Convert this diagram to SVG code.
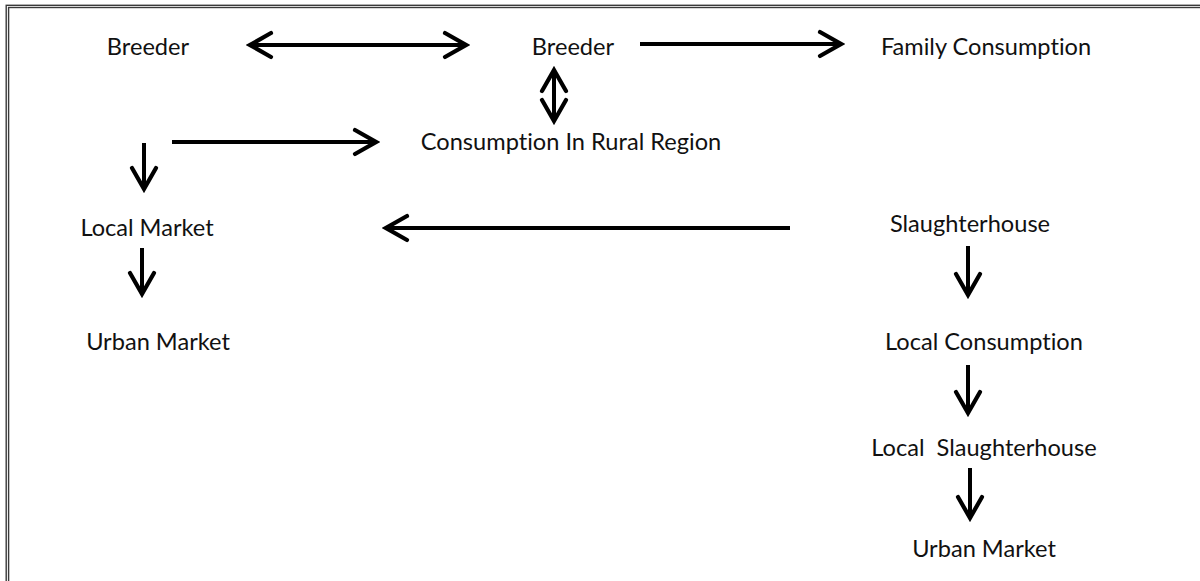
<svg xmlns="http://www.w3.org/2000/svg" width="1200" height="581" viewBox="0 0 1200 581">
<style>
.lbl{font-family:Lato,"Open Sans",sans-serif;font-size:23.6px;fill:#111;text-anchor:middle;font-variant-ligatures:none;font-feature-settings:"liga" 0}
.c{stroke:#000;stroke-width:4;fill:none}
.frame{fill:none;stroke:#3a3a3a;stroke-width:1.4}
</style>
<defs>
<marker id="ah" markerUnits="userSpaceOnUse" viewBox="-26 -15 30 30" refX="0" refY="0" markerWidth="30" markerHeight="30" orient="auto-start-reverse">
<path d="M-21,-12 L0,0 L-21,12" fill="none" stroke="#000" stroke-width="4.2" stroke-linecap="round" stroke-linejoin="miter"/>
</marker>
</defs>
<rect width="1200" height="581" fill="#fff"/>
<rect class="frame" x="6.2" y="5.3" width="1300" height="700"/>
<rect class="frame" x="8.6" y="7.5" width="1300" height="700"/>
<g id="connectors">
<line class="c" x1="250" y1="45" x2="466" y2="45" marker-start="url(#ah)" marker-end="url(#ah)"/>
<line class="c" x1="640" y1="44" x2="841" y2="44" marker-end="url(#ah)"/>
<line class="c" x1="554" y1="70" x2="554" y2="121" marker-start="url(#ah)" marker-end="url(#ah)"/>
<line class="c" x1="172" y1="142" x2="376" y2="142" marker-end="url(#ah)"/>
<line class="c" x1="144" y1="143" x2="144" y2="189" marker-end="url(#ah)"/>
<line class="c" x1="142" y1="248" x2="142" y2="294" marker-end="url(#ah)"/>
<line class="c" x1="790" y1="228" x2="386" y2="228" marker-end="url(#ah)"/>
<line class="c" x1="968" y1="246" x2="968" y2="295" marker-end="url(#ah)"/>
<line class="c" x1="968" y1="365" x2="968" y2="413" marker-end="url(#ah)"/>
<line class="c" x1="970" y1="468" x2="970" y2="518" marker-end="url(#ah)"/>
</g>
<g id="n-breeder1"><text class="lbl" x="148" y="55">Breeder</text></g>
<g id="n-breeder2"><text class="lbl" x="573" y="55">Breeder</text></g>
<g id="n-family"><text class="lbl" x="986" y="55">Family Consumption</text></g>
<g id="n-rural"><text class="lbl" x="571" y="150">Consumption In Rural Region</text></g>
<g id="n-localmarket"><text class="lbl" x="147" y="236">Local Market</text></g>
<g id="n-urban1"><text class="lbl" x="158" y="350">Urban Market</text></g>
<g id="n-slaughter"><text class="lbl" x="970" y="232">Slaughterhouse</text></g>
<g id="n-localcons"><text class="lbl" x="984" y="350">Local Consumption</text></g>
<g id="n-localslaughter"><text class="lbl" x="984" y="456" xml:space="preserve">Local  Slaughterhouse</text></g>
<g id="n-urban2"><text class="lbl" x="984" y="557">Urban Market</text></g>
</svg>
